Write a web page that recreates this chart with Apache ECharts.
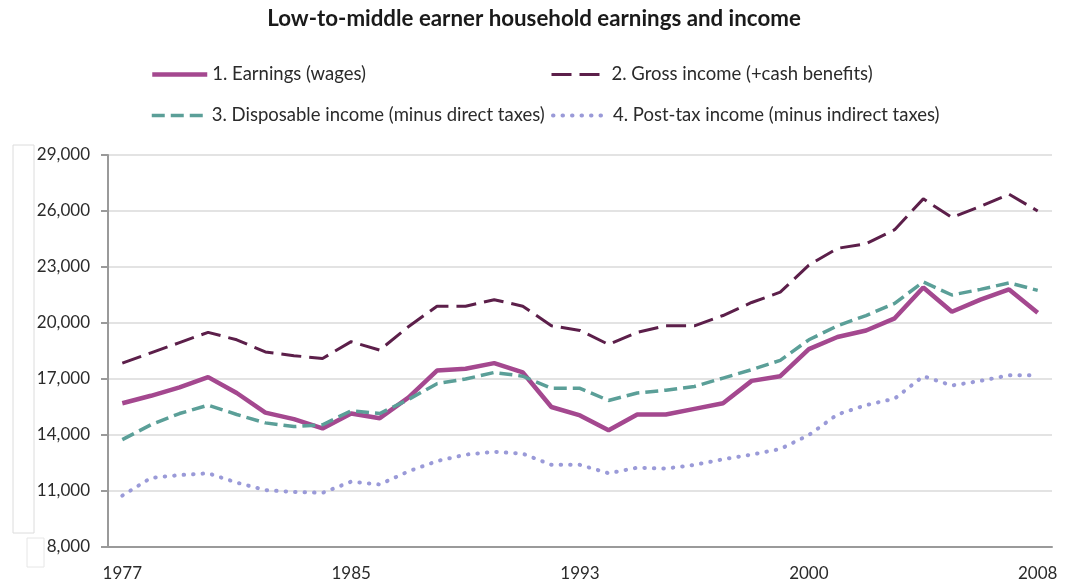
<!DOCTYPE html>
<html>
<head>
<meta charset="utf-8">
<script src="https://cdn.jsdelivr.net/npm/echarts@6/dist/echarts.min.js"></script>
<style>
  html, body { margin: 0; padding: 0; background: #fff; }
  #chart { width: 1068px; height: 585px; }
</style>
</head>
<body>
<div id="chart"></div>
<script>
// calendar years to 1993, financial years after that
const years = [
  '1977', '1978', '1979', '1980', '1981', '1982', '1983', '1984', '1985',
  '1986', '1987', '1988', '1989', '1990', '1991', '1992', '1993',
  '1993/94', '1994/95', '1995/96', '1996/97', '1997/98', '1998/99', '1999/00',
  '2000/01', '2001/02', '2002/03', '2003/04', '2004/05', '2005/06', '2006/07',
  '2007/08', '2008/09'
]

const earnings = [
  15700, 16100, 16550, 17100, 16250, 15200, 14850, 14350, 15150,
  14900, 16000, 17450, 17550, 17850, 17350, 15500, 15050,
  14250, 15100, 15100, 15400, 15700, 16900, 17150,
  18600, 19250, 19600, 20250, 21900, 20600, 21250,
  21800, 20550
]

const grossIncome = [
  17850, 18400, 18950, 19500, 19100, 18450, 18250, 18100, 19000,
  18550, 19800, 20900, 20900, 21250, 20900, 19850, 19600,
  18850, 19500, 19850, 19850, 20400, 21100, 21650,
  23100, 24000, 24250, 25000, 26650, 25650, 26250,
  26900, 26000
]

const disposableIncome = [
  13750, 14550, 15150, 15600, 15100, 14650, 14450, 14550, 15300,
  15150, 15900, 16750, 17000, 17350, 17150, 16500, 16500,
  15850, 16250, 16400, 16600, 17050, 17500, 18000,
  19100, 19850, 20400, 21050, 22200, 21500, 21800,
  22150, 21750
]

const postTaxIncome = [
  10750, 11700, 11850, 11950, 11450, 11050, 10950, 10900, 11500,
  11350, 12050, 12600, 12950, 13100, 13000, 12400, 12400,
  11950, 12250, 12200, 12400, 12700, 12950, 13250,
  14000, 15100, 15600, 15950, 17150, 16650, 16900,
  17200, 17200
]

const seriesNames = [
  '1. Earnings (wages)',
  '2. Gross income (+cash benefits)',
  '3. Disposable income (minus direct taxes)',
  '4. Post-tax income (minus indirect taxes)'
]

const colors = ['#a4488f', '#5c1f4a', '#5b9f98', '#9a9ad8']
const widths = [4.5, 3, 3.5, 4]
const dashes = ['solid', [20, 8], [13, 6], [0.5, 9]]
const caps = ['butt', 'butt', 'butt', 'round']

const FONT = 'Lato'
const textColor = '#2b2b2b'

const chart = echarts.init(document.getElementById('chart'))

function legendAt(i, left, top) {
  return {
    data: [seriesNames[i]],
    left: left,
    top: top,
    padding: 0,
    itemWidth: 55,
    itemHeight: 14,
    itemStyle: { opacity: 0 },
    lineStyle: { color: colors[i], width: widths[i], type: dashes[i], cap: caps[i] },
    textStyle: { fontFamily: FONT, fontSize: 18.5, color: textColor }
  }
}

function lineSeries(i, data) {
  return {
    name: seriesNames[i],
    type: 'line',
    data: data,
    symbol: 'none',
    lineStyle: { color: colors[i], width: widths[i], type: dashes[i], cap: caps[i] },
    itemStyle: { color: colors[i] }
  }
}

chart.setOption({
  animation: false,
  backgroundColor: '#fff',
  title: {
    text: 'Low-to-middle earner household earnings and income',
    left: 'center',
    top: 3,
    textStyle: { fontFamily: FONT, fontSize: 22.3, fontWeight: 'bold', color: '#1a1a1a' }
  },
  legend: [
    legendAt(0, 150, 65),
    legendAt(1, 550, 65),
    legendAt(2, 150, 106),
    legendAt(3, 551, 106)
  ],
  grid: { left: 108, right: 16, top: 155, bottom: 38 },
  xAxis: {
    type: 'category',
    data: years,
    boundaryGap: true,
    axisLine: { lineStyle: { color: '#9a9a9a', width: 2 } },
    axisTick: { show: false },
    axisLabel: {
      interval: 7,
      margin: 18,
      fontFamily: FONT,
      fontSize: 17,
      color: textColor,
      formatter: v => v.slice(0, 4)
    }
  },
  yAxis: {
    type: 'value',
    min: 8000,
    max: 29000,
    interval: 3000,
    axisLine: { show: true, lineStyle: { color: '#9a9a9a', width: 2 } },
    axisTick: { show: true, inside: false, length: 7, lineStyle: { color: '#9a9a9a', width: 2 } },
    splitLine: { lineStyle: { color: '#e3e3e3', width: 2 } },
    axisLabel: {
      margin: 18,
      fontFamily: FONT,
      fontSize: 17,
      color: textColor,
      formatter: v => v.toLocaleString('en-US')
    }
  },
  graphic: [
    { type: 'rect', shape: { x: 13, y: 145, width: 21, height: 388 },
      style: { fill: '#fff', stroke: '#dcdcdc', lineWidth: 1 } },
    { type: 'rect', shape: { x: 27, y: 538, width: 17, height: 29 },
      style: { fill: '#fff', stroke: '#e6e6e6', lineWidth: 1 } }
  ],
  series: [
    lineSeries(0, earnings),
    lineSeries(1, grossIncome),
    lineSeries(2, disposableIncome),
    lineSeries(3, postTaxIncome)
  ]
})
</script>
</body>
</html>
